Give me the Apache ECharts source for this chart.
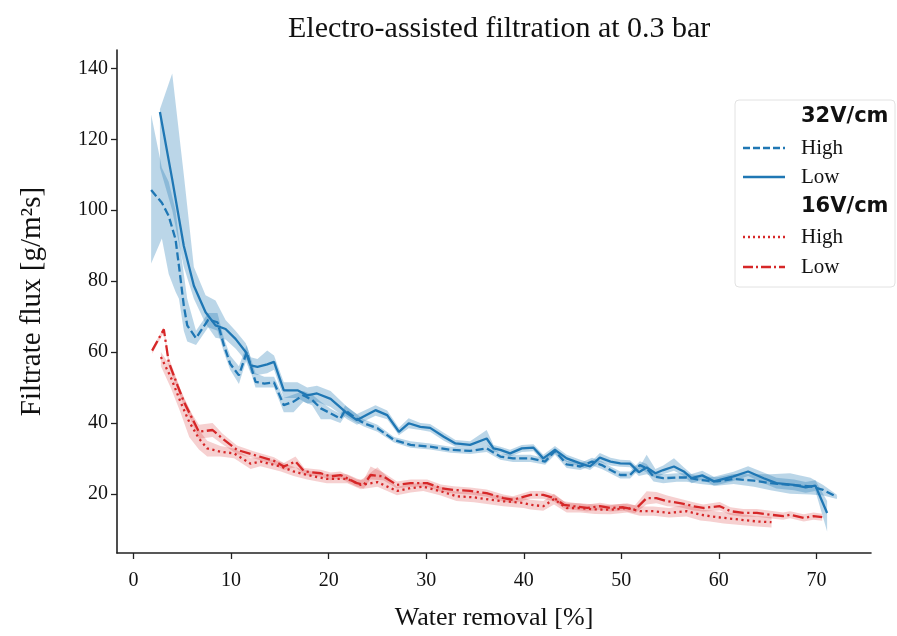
<!DOCTYPE html>
<html>
<head>
<meta charset="utf-8">
<script src="https://cdn.jsdelivr.net/npm/echarts@6/dist/echarts.min.js"></script>
<style>html,body{margin:0;padding:0;background:#fff;}#c{width:897px;height:636px;}</style>
</head>
<body>
<div id="c"></div>
<script>
// ---- tick labels ----
const xTicks = [0, 10, 20, 30, 40, 50, 60, 70];
const yTicks = [20, 40, 60, 80, 100, 120, 140];

// ---- 32V/cm High (dashed) ----
const bhX = [1.8, 2.9, 3.6, 4.3, 4.65, 5.15, 5.5, 6.4, 7.65, 8.6, 9.25, 9.9, 10.8, 11.6, 12.5, 13.4, 14.4, 15.4, 16.4, 17.4, 18.3, 19.2, 20.2, 21.2, 21.7, 22.6, 23.6, 25, 26.7, 28.4, 30.4, 32.5, 34.5, 36.2, 37.6, 38.9, 40.7, 42.2, 43.2, 44.4, 45.8, 47, 48, 48.9, 49.9, 50.9, 51.9, 52.6, 53.3, 54.3, 55.7, 56.7, 58.1, 59.8, 61.5, 63.6, 65.3, 67.3, 69.4, 70.7, 72.1];
const bhY = [105.7, 102.1, 98.4, 91.8, 84.3, 73.1, 67.5, 63.9, 69.1, 68.4, 62, 56.7, 53.4, 60, 51.6, 51.1, 51.4, 45, 46, 47.8, 46.5, 44.1, 42.7, 41.2, 43.6, 41.7, 39.9, 38.5, 35.2, 33.8, 33.3, 32.4, 32.1, 32.8, 30.5, 30, 30, 29.1, 32.1, 28.3, 27.7, 29.1, 28.1, 26.7, 25.3, 25.3, 28.1, 27.2, 24.9, 24.4, 24.6, 24.6, 23.9, 23.5, 24.2, 23.7, 23, 22.5, 22.1, 21.1, 19.1];
const bhLo = [85, 92, 82, 77, 75, 66, 63, 62, 67, 66, 60, 55, 51, 58, 50, 50, 50, 43, 43, 46, 45, 41, 41, 40, 42, 40.5, 39, 37.5, 34.5, 33, 32.5, 31.6, 31.2, 31.8, 29.6, 29, 29, 28.2, 31, 27.3, 26.7, 28, 27, 25.7, 24.3, 24.3, 27, 26, 23.5, 23, 23.4, 23.4, 22.8, 22.3, 22.8, 22, 21, 20, 19.8, 19.5, 18.5];
const bhHi = [127, 112, 108, 100, 92, 82, 75, 66, 71, 71, 64, 59, 56, 62, 54, 53, 53, 47, 48, 49, 48, 46, 44, 42.5, 45, 43, 41, 39.5, 36, 34.8, 34.2, 33.3, 33, 34, 31.4, 31, 31, 30, 33, 29.3, 28.7, 30.2, 29.2, 27.7, 26.3, 26.3, 29.2, 28.4, 26, 25.5, 25.8, 25.8, 25, 24.7, 25.6, 25.5, 25.5, 25.8, 24.5, 22.5, 19.7];

// ---- 32V/cm Low (solid) ----
const blX = [2.7, 3.96, 5.15, 6.18, 7.38, 8.4, 9.43, 10.45, 11.5, 12, 12.7, 13.7, 14.4, 15.4, 16.8, 17.8, 18.8, 20.2, 21.9, 22.9, 24.8, 26, 27.2, 28.2, 29.4, 30.4, 31.8, 33, 34.5, 36.2, 36.9, 37.6, 38.6, 39.8, 41, 42, 43.2, 44.4, 45.8, 46.8, 47.8, 48.9, 49.9, 50.9, 51.8, 52.6, 53.5, 54.3, 55.4, 56.4, 57.2, 58.3, 59.5, 61.5, 63, 64.6, 65.9, 67.7, 68.9, 69.9, 71.1];
const blY = [127.7, 108.7, 89.9, 78.7, 71.2, 67.5, 66.5, 63.7, 60, 56.2, 55.8, 56.5, 57.2, 49.2, 49.2, 47.8, 48.3, 46.8, 42.7, 40.8, 43.6, 42.2, 37.5, 39.9, 38.9, 38.6, 36.1, 34.2, 33.8, 35.6, 32.8, 32.4, 31.4, 32.8, 33, 30, 32.4, 30, 28.6, 27.7, 30.2, 29.1, 28.6, 28.5, 26.1, 27.4, 25.8, 26.7, 27.7, 26.3, 24.4, 25.2, 23.5, 24.9, 26.3, 24.4, 23, 22.5, 21.8, 22.3, 14.6];
const blLo = [112, 100, 84, 75, 68, 64, 63.5, 61, 57.5, 54, 53.5, 54, 55, 47, 47, 45.5, 46, 44.5, 41, 39.5, 42, 41, 36.5, 38.5, 38, 37.5, 35, 33.3, 33, 34, 32, 31.5, 30.5, 31.8, 32, 29, 31.3, 29, 27.6, 26.7, 29, 28, 27.6, 27.5, 25, 25.5, 24.5, 25.5, 26.5, 25, 23, 24, 22.3, 23.6, 25, 23, 21.5, 21, 20.3, 20.8, 9.4];
const blHi = [128.5, 138.6, 110, 84, 76, 74.5, 69, 66, 62.5, 58.5, 58, 60.4, 59, 51.5, 51.5, 50, 50.5, 49, 44.5, 42.5, 45, 43.5, 38.6, 41.3, 40, 39.7, 37.2, 35.2, 34.8, 38, 33.8, 33.3, 32.4, 33.8, 34, 31, 33.5, 31, 29.6, 28.7, 31.5, 30.2, 29.6, 29.5, 27.2, 31, 27, 28, 30, 27.5, 25.6, 26.5, 24.8, 26.2, 27.8, 26, 24.5, 24, 23.3, 23.8, 18];

// ---- 16V/cm High (dotted) ----
const rhX = [2.8, 3.8, 4.8, 5.7, 6.7, 7.55, 8.9, 10.3, 12, 13, 15.1, 16.4, 17.8, 19.8, 21.9, 23.3, 25, 27, 28.4, 29.7, 31.5, 33.1, 34.9, 36.6, 37.9, 40, 40.7, 42, 43.1, 44.4, 45.8, 47.3, 48.9, 50.6, 51.9, 53.3, 54.9, 56.7, 58.1, 59.1, 60.5, 62.2, 63.9, 65.4];
const rhY = [58.6, 53, 46, 40.3, 35.6, 32.8, 31.9, 31.4, 28.5, 29.1, 27.7, 26.3, 25.3, 24.2, 24.2, 22.5, 23.3, 20.8, 21.6, 22, 20.7, 19.3, 19, 18.3, 17.9, 17.4, 16.9, 16.5, 18.5, 16, 16, 15.6, 15.5, 16, 15.1, 15.1, 14.6, 15.1, 14.1, 13.7, 13.2, 12.7, 12.2, 12];
const rhLo = [56, 50, 43, 36, 32.5, 30.5, 30.5, 30, 27, 27.8, 26.3, 25, 24, 23, 23, 21.3, 22, 19.6, 20.4, 20.8, 19.5, 18, 17.6, 17, 16.5, 16, 15.6, 15.2, 17, 14.7, 14.7, 14.3, 14.2, 14.7, 13.8, 13.8, 13.3, 13.6, 12.5, 12.2, 11.6, 11.2, 10.8, 10.5];
const rhHi = [60, 56, 49.5, 44, 38, 35, 33.5, 32.8, 30, 30.4, 29, 27.6, 26.6, 25.5, 25.5, 23.8, 27.5, 22, 22.8, 23.2, 22, 20.6, 20.5, 19.8, 19.3, 18.8, 18.3, 18, 20, 17.3, 17.3, 17, 16.8, 17.3, 16.4, 16.4, 16, 17, 15.6, 15.3, 14.8, 14.3, 13.7, 13.5];

// ---- 16V/cm Low (dash-dot) ----
const rlX = [1.9, 3.1, 3.6, 4.5, 5.15, 6, 6.7, 8.1, 9.1, 10.6, 12.3, 14.4, 15.4, 16.6, 17.5, 19.2, 20.2, 21.2, 22.9, 23.6, 24.3, 25.6, 27, 28.4, 30.1, 31.5, 32.8, 34.5, 36.2, 37.9, 38.9, 40.7, 42, 43.1, 44.1, 45.1, 46.5, 47.8, 48.9, 50.2, 51.4, 52.6, 53.6, 54.7, 56, 57.4, 58.4, 60.1, 61.2, 62.5, 63.9, 65.3, 66.6, 67.3, 68.7, 69.7, 70.6];
const rlY = [60.4, 66.4, 57.2, 50.6, 46, 41.3, 37.5, 38, 35.6, 32.4, 31, 29.3, 27.7, 29.1, 26.3, 25.8, 24.9, 25.3, 23, 22.5, 25.3, 24.9, 22.5, 23, 23, 21.6, 21.1, 20.8, 20.2, 18.8, 18.3, 19.7, 19.7, 18.8, 16.9, 16.5, 16, 16.5, 16, 16.2, 15.5, 18.8, 18.8, 17.9, 17.4, 16.5, 16, 16.5, 15.1, 14.6, 14.6, 14.1, 13.7, 14.1, 13.2, 13.7, 13.4];
const rlLo = [59.5, 65.5, 56, 49.5, 45, 40, 35.5, 36, 34, 31.2, 30, 28.3, 26.7, 27.5, 25.3, 24.8, 23.8, 24.3, 22, 21.5, 24, 23.8, 21.5, 22, 22, 20.6, 20.1, 19.8, 19.2, 17.8, 17.3, 18.6, 18.6, 17.8, 15.9, 15.5, 15, 15.5, 15, 15.2, 14.5, 17, 17.3, 16.5, 16.2, 15.3, 15, 15.3, 14, 13.5, 13.5, 13, 12.7, 13.1, 12.2, 12.7, 12.4];
const rlHi = [61, 67, 58.5, 51.8, 47, 42.5, 39.5, 40, 37, 33.6, 32, 30.3, 28.7, 30.5, 27.3, 26.8, 26, 26.3, 24, 24, 27.7, 26, 23.5, 24, 24, 22.6, 22.1, 21.8, 21.2, 19.8, 19.3, 20.8, 20.8, 19.8, 17.9, 17.5, 17, 17.5, 17, 17.2, 16.8, 20.7, 20.5, 19.5, 18.6, 17.6, 17, 17.7, 16.2, 15.7, 15.7, 15.2, 14.7, 15.1, 14.2, 14.7, 14.4];

const BLUE = '#1f77b4', RED = '#d62728';
const BLUE_BAND = 'rgba(31,119,180,0.3)', RED_BAND = 'rgba(214,39,40,0.22)';
const SERIF = '"Liberation Serif", "DejaVu Serif", serif';

function bandSeries(name, xs, lo, hi, fill) {
  return {
    type: 'custom', name: name, silent: true, z: 1, animation: false,
    data: xs.map((v, i) => [v, lo[i], hi[i]]),
    encode: { x: 0, y: [1, 2] },
    renderItem: function (params, api) {
      if (params.dataIndex !== 0) return null;
      const pts = [];
      for (let i = 0; i < xs.length; i++) pts.push(api.coord([xs[i], hi[i]]));
      for (let i = xs.length - 1; i >= 0; i--) pts.push(api.coord([xs[i], lo[i]]));
      return { type: 'polygon', shape: { points: pts }, style: { fill: fill, stroke: null } };
    }
  };
}
function lineSeries(name, xs, ys, color, dash) {
  return {
    type: 'line', name: name, z: 3, animation: false, symbol: 'none', showSymbol: false,
    data: xs.map((v, i) => [v, ys[i]]),
    lineStyle: { color: color, width: 2.3, type: dash, cap: 'butt' }
  };
}

const chart = echarts.init(document.getElementById('c'), null, { renderer: 'canvas' });

const LX = 735, LY = 100;
const legendItems = [
  { type: 'rect', shape: { x: LX, y: LY, width: 160, height: 187, r: 4 }, style: { fill: 'rgba(255,255,255,0.85)', stroke: '#e2e2e2', lineWidth: 1 } },
  { type: 'text', x: 801, y: 117, style: { text: '32V/cm', font: 'bold 21px "DejaVu Sans"', fill: '#111', verticalAlign: 'middle' } },
  { type: 'line', shape: { x1: 743, y1: 148, x2: 785, y2: 148 }, style: { stroke: BLUE, lineWidth: 2.3, lineDash: [7, 3] } },
  { type: 'text', x: 801, y: 148, style: { text: 'High', font: '21px ' + SERIF, fill: '#111', verticalAlign: 'middle' } },
  { type: 'line', shape: { x1: 743, y1: 177, x2: 785, y2: 177 }, style: { stroke: BLUE, lineWidth: 2.3 } },
  { type: 'text', x: 801, y: 177, style: { text: 'Low', font: '21px ' + SERIF, fill: '#111', verticalAlign: 'middle' } },
  { type: 'text', x: 801, y: 207, style: { text: '16V/cm', font: 'bold 21px "DejaVu Sans"', fill: '#111', verticalAlign: 'middle' } },
  { type: 'line', shape: { x1: 743, y1: 237, x2: 785, y2: 237 }, style: { stroke: RED, lineWidth: 2.3, lineDash: [2, 3] } },
  { type: 'text', x: 801, y: 237, style: { text: 'High', font: '21px ' + SERIF, fill: '#111', verticalAlign: 'middle' } },
  { type: 'line', shape: { x1: 743, y1: 267, x2: 785, y2: 267 }, style: { stroke: RED, lineWidth: 2.3, lineDash: [10, 3, 2, 3] } },
  { type: 'text', x: 801, y: 267, style: { text: 'Low', font: '21px ' + SERIF, fill: '#111', verticalAlign: 'middle' } }
];

chart.setOption({
  animation: false,
  backgroundColor: '#fff',
  title: {
    text: 'Electro-assisted filtration at 0.3 bar', left: 283, top: 9,
    textStyle: { fontFamily: SERIF, fontSize: 30, fontWeight: 'normal', color: '#111' }
  },
  grid: { left: 117, right: 26, top: 50, bottom: 81, containLabel: false },
  xAxis: {
    type: 'value', min: -1.7, max: 75.6,
    name: 'Water removal [%]', nameLocation: 'middle', nameGap: 52,
    nameTextStyle: { fontFamily: SERIF, fontSize: 26, color: '#111' },
    axisLine: { show: true, onZero: false, lineStyle: { color: '#222', width: 1.6 } },
    axisTick: { show: true, customValues: xTicks, length: 6, lineStyle: { color: '#222', width: 1.3 } },
    axisLabel: { customValues: xTicks, fontFamily: SERIF, fontSize: 20, color: '#111', margin: 18 },
    splitLine: { show: false }
  },
  yAxis: {
    type: 'value', min: 3.3, max: 145.2,
    name: 'Filtrate flux [g/m²s]', nameLocation: 'middle', nameGap: 70, nameRotate: 90,
    nameTextStyle: { fontFamily: SERIF, fontSize: 29, color: '#111' },
    axisLine: { show: true, onZero: false, lineStyle: { color: '#222', width: 1.6 } },
    axisTick: { show: true, customValues: yTicks, length: 6, lineStyle: { color: '#222', width: 1.3 } },
    axisLabel: { customValues: yTicks, fontFamily: SERIF, fontSize: 20, color: '#111', margin: 9 },
    splitLine: { show: false }
  },
  graphic: legendItems,
  series: [
    bandSeries('32 High band', bhX, bhLo, bhHi, BLUE_BAND),
    bandSeries('32 Low band', blX, blLo, blHi, BLUE_BAND),
    bandSeries('16 High band', rhX, rhLo, rhHi, RED_BAND),
    bandSeries('16 Low band', rlX, rlLo, rlHi, RED_BAND),
    lineSeries('32V/cm High', bhX, bhY, BLUE, [8, 3.5]),
    lineSeries('32V/cm Low', blX, blY, BLUE, 'solid'),
    lineSeries('16V/cm High', rhX, rhY, RED, [2.2, 3.5]),
    lineSeries('16V/cm Low', rlX, rlY, RED, [11, 3.5, 2.2, 3.5])
  ]
});
</script>
</body>
</html>
